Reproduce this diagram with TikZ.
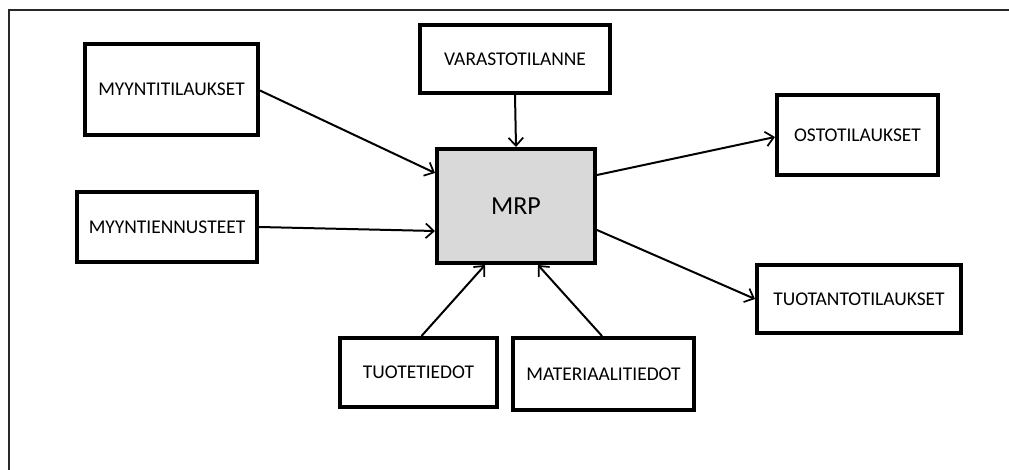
\documentclass[tikz,border=0pt]{standalone}
\usepackage{fontspec}
\setmainfont{Carlito}
\usetikzlibrary{arrows.meta,calc}
\begin{document}
\begin{tikzpicture}[x=0.75pt,y=-0.75pt,
  box/.style={draw=black,line width=3pt,fill=white,inner sep=0pt,align=center,
    font=\fontsize{14.6}{16}\selectfont},
  mrpbox/.style={box,fill={rgb,255:red,217;green,217;blue,217},font=\fontsize{19.5}{24}\selectfont},
  conn/.style={line width=1.5pt,-{Straight Barb[length=6pt,width=11pt,line width=1.3pt]}},
  frameline/.style={line width=1.6pt,draw={rgb,255:red,40;green,40;blue,40}}]
\useasboundingbox (0,0) rectangle (1009,470);
\coordinate (ftl) at (9,10);
\coordinate (ftr) at (1009,10);
\coordinate (fbl) at (9,470);
\draw[frameline] (ftr) -- (ftl) -- (fbl);

\node[box,minimum width=173*0.75pt,minimum height=91*0.75pt] (myt) at (171.5,89.5) {MYYNTITILAUKSET};
\node[box,minimum width=180*0.75pt,minimum height=70*0.75pt] (myn) at (167,227) {MYYNTIENNUSTEET};
\node[box,minimum width=190*0.75pt,minimum height=68*0.75pt] (var) at (515,59) {VARASTOTILANNE};
\node[mrpbox,minimum width=158*0.75pt,minimum height=114*0.75pt] (mrp) at (516,206) {MRP};
\node[box,minimum width=161*0.75pt,minimum height=80*0.75pt] (ost) at (857.5,135) {OSTOTILAUKSET};
\node[box,minimum width=204*0.75pt,minimum height=68*0.75pt] (tuo) at (859,299) {TUOTANTOTILAUKSET};
\node[box,minimum width=157*0.75pt,minimum height=69*0.75pt] (tt) at (418.5,372.5) {TUOTETIEDOT};
\node[box,minimum width=181*0.75pt,minimum height=72*0.75pt] (mat) at (603.5,374) {MATERIAALITIEDOT};

\draw[conn] ($(myt.east)+(0,1)$) -- ($(mrp.west)+(0,-33)$);
\draw[conn] (myn.east) -- ($(mrp.west)+(0,25)$);
\draw[conn] (var.south) -- (mrp.north);
\draw[conn] ($(mrp.east)+(0,-31)$) -- ($(ost.west)+(0,2)$);
\draw[conn] ($(mrp.east)+(0,24)$) -- (tuo.west);
\draw[conn] ($(tt.north)+(3,0)$) -- ($(mrp.south)+(-31,0)$);
\draw[conn] ($(mat.north)+(-1.5,0)$) -- ($(mrp.south)+(22,0)$);
\end{tikzpicture}
\end{document}
